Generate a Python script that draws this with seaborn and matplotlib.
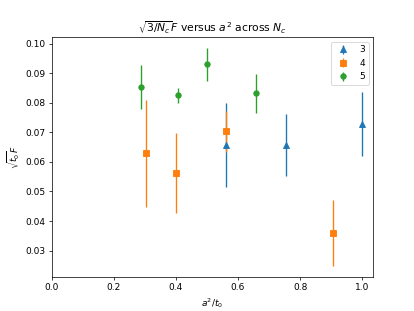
import numpy as np
import pandas as pd
import matplotlib
matplotlib.use("Agg")
import matplotlib.pyplot as plt
import seaborn as sns

# values
nc3_x = [0.561, 0.755, 1.0]
nc3_y = [0.0657, 0.0657, 0.0729]
nc3_err = [0.0143, 0.0104, 0.0108]

nc4_x = [0.303, 0.400, 0.561, 0.905]
nc4_y = [0.0629, 0.0562, 0.0704, 0.0360]
nc4_err = [0.0180, 0.0135, 0.0070, 0.0112]

nc5_x = [0.286, 0.405, 0.499, 0.657]
nc5_y = [0.0853, 0.0825, 0.0930, 0.0832]
nc5_err = [0.0075, 0.0025, 0.0055, 0.0066]

series = [
    ("3", nc3_x, nc3_y, nc3_err, "^"),
    ("4", nc4_x, nc4_y, nc4_err, "s"),
    ("5", nc5_x, nc5_y, nc5_err, "o"),
]

colors = sns.color_palette("tab10", 3)

fig, ax = plt.subplots(figsize=(6.4, 4.8), dpi=64.8)
for (label, x, y, err, marker), c in zip(series, colors):
    ax.errorbar(x, y, yerr=err, fmt=marker, color=c, label=label)

ax.set_xlim(left=0)
ax.set_title(r"$\sqrt{3/N_c}F$ versus $a^2$ across $N_c$")
ax.set_xlabel(r"$a^2/t_0$")
ax.set_ylabel(r"$\sqrt{t_0}F$")
ax.legend(loc="upper right")

fig.savefig("out.png")
